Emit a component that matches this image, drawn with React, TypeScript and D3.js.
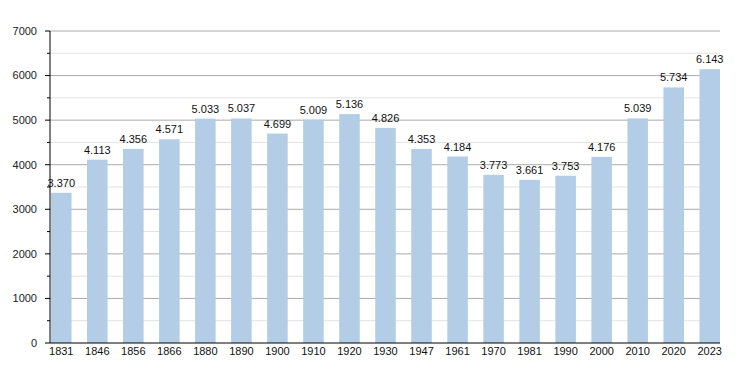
import React from "react";
import { scaleBand, scaleLinear, range } from "d3";

const years = ["1831", "1846", "1856", "1866", "1880", "1890", "1900", "1910", "1920", "1930", "1947", "1961", "1970", "1981", "1990", "2000", "2010", "2020", "2023"];
const population = [3370, 4113, 4356, 4571, 5033, 5037, 4699, 5009, 5136, 4826, 4353, 4184, 3773, 3661, 3753, 4176, 5039, 5734, 6143];
const majorTicks = [0, 1000, 2000, 3000, 4000, 5000, 6000, 7000];
const minorTicks = [500, 1500, 2500, 3500, 4500, 5500, 6500];

const fmt = (v: number) => {
  const s = String(v);
  return s.length > 3 ? s.slice(0, s.length - 3) + "." + s.slice(-3) : s;
};

export default function App() {
  const width = 750;
  const height = 373;
  const left = 50;
  const right = 720;
  const top = 31;
  const bottom = 343;

  const x = scaleBand<string>().domain(years).range([left + 1, right]).paddingInner(0.43).paddingOuter(0);
  const y = scaleLinear().domain([0, 7000]).range([bottom, top]);

  return (
    <svg width={width} height={height} style={{ position: "absolute", left: 0, top: 0, fontFamily: "Liberation Sans, Arial, sans-serif" }}>
      <rect width={width} height={height} fill="#fff" />
      {minorTicks.map((t) => (
        <g key={"mi" + t}>
          <line x1={left} x2={right} y1={y(t)} y2={y(t)} stroke="#e2e2e2" />
          <line x1={left - 3} x2={left} y1={y(t)} y2={y(t)} stroke="#000" />
        </g>
      ))}
      {majorTicks.map((t) => (
        <g key={"ma" + t}>
          {t > 0 && <line x1={left} x2={right} y1={y(t)} y2={y(t)} stroke="#aaaaaa" />}
          <line x1={left - 5} x2={left} y1={y(t)} y2={y(t)} stroke="#000" />
          <text x={37} y={y(t)} dy="0.35em" textAnchor="end" fontSize={11} fill="#222">{t}</text>
        </g>
      ))}
      {years.map((yr, i) => (
        <g key={yr}>
          <rect x={x(yr)} y={y(population[i])} width={x.bandwidth()} height={bottom - y(population[i])} fill="#b3cde6" />
          <text x={(x(yr) as number) + x.bandwidth() / 2} y={y(population[i]) - 6} textAnchor="middle" fontSize={11} fill="#111">{fmt(population[i])}</text>
          <text x={(x(yr) as number) + x.bandwidth() / 2} y={351} dy="0.35em" textAnchor="middle" fontSize={11} fill="#111">{yr}</text>
        </g>
      ))}
      <line x1={left} x2={left} y1={top} y2={bottom} stroke="#000" />
      <line x1={left} x2={right} y1={bottom} y2={bottom} stroke="#000" />
    </svg>
  );
}
